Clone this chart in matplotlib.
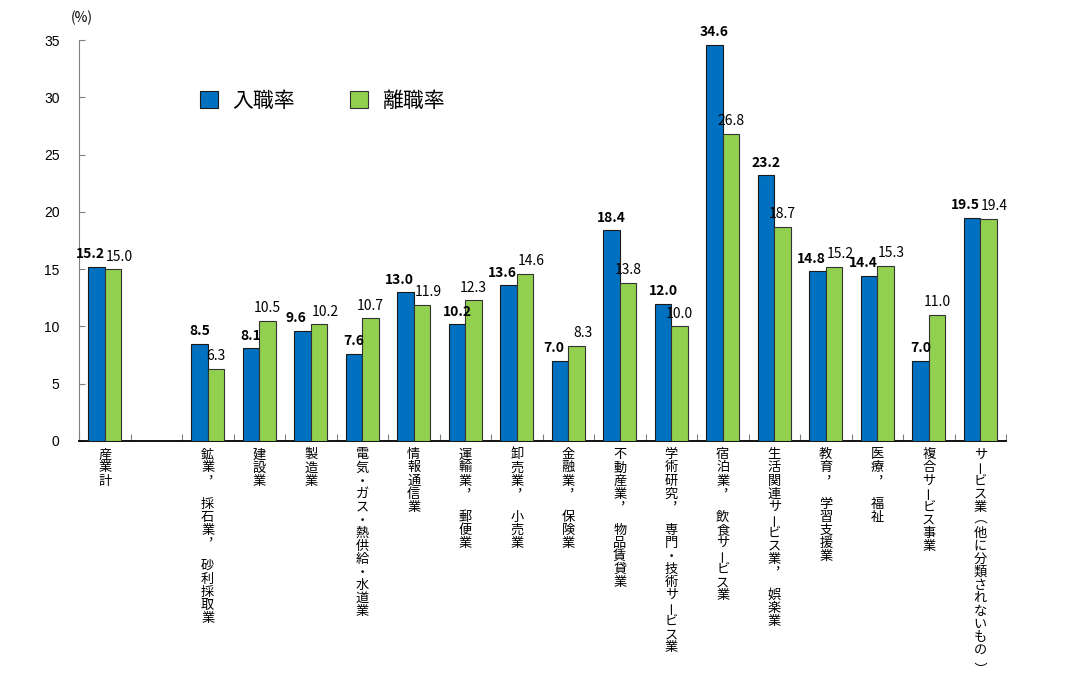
import matplotlib
matplotlib.use("Agg")
import matplotlib.pyplot as plt
import numpy as np

plt.rcParams['font.family'] = ['Noto Sans CJK JP', 'DejaVu Sans']

# data
categories = ["産業計", "鉱業，採石業，砂利採取業", "建設業", "製造業",
              "電気・ガス・熱供給・水道業", "情報通信業", "運輸業，郵便業",
              "卸売業，小売業", "金融業，保険業", "不動産業，物品賃貸業",
              "学術研究，専門・技術サービス業", "宿泊業，飲食サービス業",
              "生活関連サービス業，娯楽業", "教育，学習支援業", "医療，福祉",
              "複合サービス事業", "サービス業（他に分類されないもの）"]
entry_rate = [15.2, 8.5, 8.1, 9.6, 7.6, 13.0, 10.2, 13.6, 7.0, 18.4, 12.0,
              34.6, 23.2, 14.8, 14.4, 7.0, 19.5]
sep_rate = [15.0, 6.3, 10.5, 10.2, 10.7, 11.9, 12.3, 14.6, 8.3, 13.8, 10.0,
            26.8, 18.7, 15.2, 15.3, 11.0, 19.4]
series_names = ["入職率", "離職率"]
yticks = [0, 5, 10, 15, 20, 25, 30, 35]

blue = "#0070C0"
green = "#92D050"
fs = 9.5


def ink_shift(ch):
    # render a rotated glyph once and measure how far its ink lands from the anchor
    f = plt.figure(figsize=(1, 1), dpi=100)
    f.text(0.5, 0.5, ch, fontsize=fs, rotation=-90, rotation_mode="anchor",
           ha="center", va="center")
    f.canvas.draw()
    img = np.asarray(f.canvas.buffer_rgba())[:, :, :3]
    plt.close(f)
    ys, xs = np.nonzero(img.min(axis=2) < 160)
    dx = (xs.min() + xs.max()) / 2 - 50
    dy = (ys.min() + ys.max()) / 2 - 50
    return dx * 0.72, dy * 0.72


shifts = {ch: ink_shift(ch) for ch in "ー（）"}

# industry total first, then an empty slot, then the industries
x = np.array([0] + list(range(2, 2 + len(categories) - 1)))
w = 0.32

fig = plt.figure(figsize=(10.7, 6.87), dpi=100)
ax = fig.add_axes([79/1070, 1 - 441/687, (1006-79)/1070, 401/687])

ax.bar(x - w/2, entry_rate, w, color=blue, edgecolor="#1a1a1a", linewidth=0.8,
       label=series_names[0], zorder=3)
ax.bar(x + w/2, sep_rate, w, color=green, edgecolor="#333333", linewidth=0.8,
       label=series_names[1], zorder=3)

ax.set_xlim(-0.5, 17.5)
ax.set_ylim(0, 35)
ax.set_yticks(yticks)
ax.set_yticklabels([str(v) for v in yticks], fontfamily="Liberation Sans", fontsize=10)
ax.set_xticks(np.arange(-0.5, 18, 1))
ax.set_xticklabels([])
ax.tick_params(axis="y", direction="in", length=4, color="#808080", pad=14)
ax.tick_params(axis="x", direction="in", length=5, color="#808080")

for s in ["top", "right"]:
    ax.spines[s].set_visible(False)
ax.spines["left"].set_color("#808080")
ax.spines["bottom"].set_color("black")
ax.spines["bottom"].set_linewidth(1.3)

# value labels; push apart when the two labels sit at similar heights
for xi, b, g in zip(x, entry_rate, sep_rate):
    dx = 0.12 if abs(b - g) < 1.5 else 0.0
    ax.annotate(f"{b:.1f}", (xi - w/2 - dx, b), xytext=(0, 4), textcoords="offset points",
                ha="center", va="bottom", fontsize=10, fontweight="bold")
    ax.annotate(f"{g:.1f}", (xi + w/2 + dx, g), xytext=(0, 4), textcoords="offset points",
                ha="center", va="bottom", fontsize=10)

# vertical category labels, one character per cell
pitch = 9.4
comma_extra = 7.3
for xi, name in zip(x, categories):
    y = -10.0
    for ch in name:
        if ch in shifts:
            sx, sy = shifts[ch]
            ax.annotate(ch, (xi, 0), xytext=(-sx, y + sy), textcoords="offset points",
                        ha="center", va="center", fontsize=fs, rotation=-90,
                        rotation_mode="anchor", annotation_clip=False)
        else:
            dx, dy = (4.5, 5) if ch == "，" else (0, 0)
            ax.annotate(ch, (xi, 0), xytext=(dx, y + dy), textcoords="offset points",
                        ha="center", va="center", fontsize=fs, annotation_clip=False)
        y -= pitch + (comma_extra if ch == "，" else 0)

fig.text(82/1070, 1 - 18/687, "(%)", ha="center", va="center", fontsize=10)

ax.legend(ncol=2, loc="center left", bbox_to_anchor=(200/1070, 1 - 101/687),
          bbox_transform=fig.transFigure, frameon=False, fontsize=15,
          handlelength=0.87, handleheight=0.87, handletextpad=0.7,
          columnspacing=2.6, borderpad=0, borderaxespad=0)

fig.savefig("out.png", dpi=100)
